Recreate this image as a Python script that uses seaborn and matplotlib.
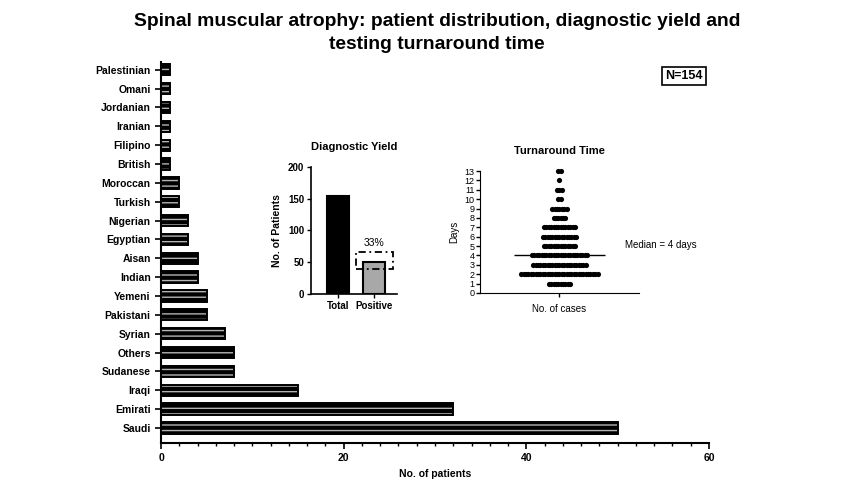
import matplotlib
matplotlib.use("Agg")
import matplotlib.pyplot as plt
from matplotlib.patches import Rectangle
from matplotlib.ticker import MultipleLocator
import numpy as np
import pandas as pd
import seaborn as sns

# patient distribution by nationality
nationalities = ["Palestinian", "Omani", "Jordanian", "Iranian", "Filipino", "British",
                 "Moroccan", "Turkish", "Nigerian", "Egyptian", "Aisan", "Indian", "Yemeni",
                 "Pakistani", "Syrian", "Others", "Sudanese", "Iraqi", "Emirati", "Saudi"]
patients = [1, 1, 1, 1, 1, 1, 2, 2, 3, 3, 4, 4, 5, 5, 7, 8, 8, 15, 32, 50]

# diagnostic yield inset
yield_labels = ["Total", "Positive"]
yield_counts = [154, 51]

# turnaround time inset (cases per day)
tat_days = [1, 2, 3, 4, 5, 6, 7, 8, 9, 10, 11, 12, 13]
tat_cases = [10, 33, 23, 24, 14, 15, 14, 6, 7, 2, 3, 1, 2]
median_days = 4

sns.set_style("ticks")
plt.rcParams["font.family"] = ["Liberation Sans", "DejaVu Sans"]
for key in ["text.color", "axes.labelcolor", "xtick.color", "ytick.color", "axes.edgecolor"]:
    plt.rcParams[key] = "black"
narrow = ["Liberation Sans Narrow", "Liberation Sans", "DejaVu Sans"]

fig = plt.figure(figsize=(8.53, 4.8), dpi=100)

# ---- main bar chart
ax = fig.add_axes([0.1888, 0.0771, 0.6424, 0.794])
df = pd.DataFrame({"nat": nationalities, "n": patients})
sns.barplot(data=df, x="n", y="nat", orient="h", color="black", saturation=1,
            width=0.6, ax=ax)
for p in list(ax.patches):
    p.set_hatch("---")
    p.set_edgecolor("#b4b4b4")
    p.set_linewidth(0)
    ax.add_patch(Rectangle(p.get_xy(), p.get_width(), p.get_height(),
                           fill=False, ec="black", lw=1.4))
ax.set_xlim(0, 60)
ax.set_ylim(len(nationalities) - 1 + 0.8, -0.42)
ax.set_xticks([0, 20, 40, 60])
ax.xaxis.set_minor_locator(MultipleLocator(2))
ax.set_xlabel("No. of patients", fontsize=7.5, fontweight="bold", family=narrow)
ax.set_ylabel("")
sns.despine(ax=ax)
for s in ["left", "bottom"]:
    ax.spines[s].set_linewidth(1.5)
ax.tick_params(axis="both", which="major", length=4, width=1.2, labelsize=7.5)
ax.tick_params(axis="x", which="minor", length=2.5, width=1)
for lab in ax.get_xticklabels() + ax.get_yticklabels():
    lab.set_family(narrow)
    lab.set_fontweight("bold")

fig.text(0.512, 0.972, "Spinal muscular atrophy: patient distribution, diagnostic yield and\ntesting turnaround time",
         ha="center", va="top", fontsize=13.9, fontweight="bold", linespacing=1.45)

fig.text(684 / 853, 1 - 76 / 480, f"N={sum(patients)}", ha="center", va="center",
         fontsize=9, fontweight="bold",
         bbox=dict(boxstyle="square,pad=0.25", fc="white", ec="black", lw=1.2))

# ---- diagnostic yield inset
ax1 = fig.add_axes([0.3646, 0.3875, 0.1008, 0.2646])
dy = pd.DataFrame({"g": yield_labels, "n": yield_counts})
sns.barplot(data=dy, x="g", y="n", hue="g", palette=["black", "#a8a8a8"], saturation=1,
            width=0.6, edgecolor="black", linewidth=1.5, legend=False, ax=ax1)
pos = ax1.patches[1]
total, positive = yield_counts
ax1.add_patch(Rectangle((pos.get_x() - 0.2, positive - 11), pos.get_width() + 0.4, 26,
                        fill=False, ec="black", lw=1.3, ls=(0, (4, 2, 1, 2))))
ax1.text(1, positive + 30, f"{round(positive / total * 100)}%", ha="center", va="center",
         fontsize=7.5)
ax1.set_ylim(0, 200)
ax1.set_xlim(-0.74, 1.62)
ax1.set_yticks([0, 50, 100, 150, 200])
ax1.set_xlabel("")
ax1.set_ylabel("No. of Patients", fontsize=7.5, fontweight="bold")
ax1.set_title("Diagnostic Yield", fontsize=8, fontweight="bold", pad=12)
sns.despine(ax=ax1)
for s in ["left", "bottom"]:
    ax1.spines[s].set_linewidth(1.2)
ax1.tick_params(length=3, width=1, labelsize=7, pad=2)
for lab in ax1.get_xticklabels() + ax1.get_yticklabels():
    lab.set_fontweight("bold")

# ---- turnaround time inset
ax2 = fig.add_axes([0.5627, 0.3896, 0.1864, 0.254])
dt = pd.DataFrame({"day": np.repeat(tat_days, tat_cases)})
grp = dt.groupby("day")["day"]
dt["offset"] = (grp.cumcount() - (grp.transform("size") - 1) / 2) * 0.03
sns.scatterplot(data=dt, x="offset", y="day", color="black", s=14, linewidth=0,
                clip_on=False, ax=ax2)
ax2.hlines(median_days, -0.57, 0.57, color="black", lw=1)
ax2.set_xlim(-1, 1)
ax2.set_ylim(0, 13)
ax2.set_yticks(range(0, 14))
ax2.set_xticks([0])
ax2.set_xticklabels([""])
ax2.set_xlabel("No. of cases", fontsize=7, family=narrow)
ax2.set_ylabel("Days", fontsize=7, family=narrow)
ax2.set_title("Turnaround Time", fontsize=8, fontweight="bold", pad=12, family=narrow)
ax2.text(0.91, 5.1, f"Median = {median_days} days", transform=ax2.get_yaxis_transform(),
         fontsize=7, va="center", family=narrow)
sns.despine(ax=ax2)
ax2.tick_params(length=3, width=1, labelsize=6.5, pad=1)
for lab in ax2.get_yticklabels():
    lab.set_family(narrow)

fig.savefig("out.png", dpi=100)
